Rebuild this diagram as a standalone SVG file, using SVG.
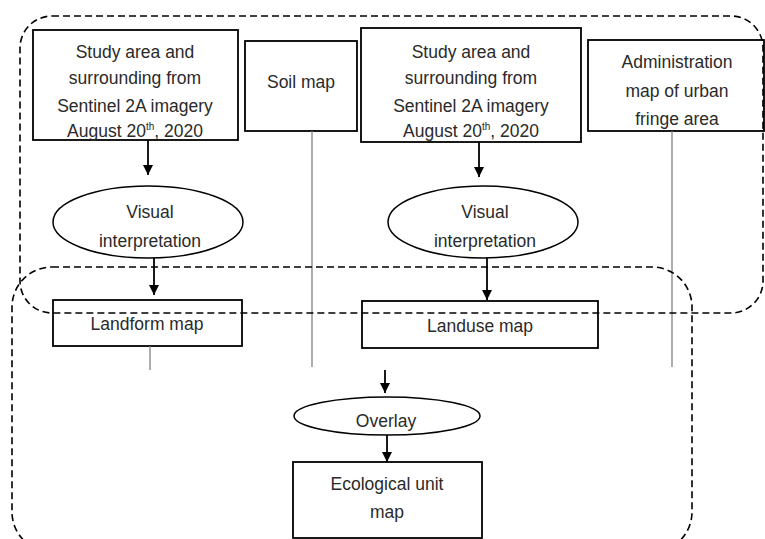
<svg xmlns="http://www.w3.org/2000/svg" width="765" height="539" viewBox="0 0 765 539">
<style>
.box{fill:#fff;stroke:#000;stroke-width:1.8}
.ell{fill:#fff;stroke:#000;stroke-width:1.5}
.t{font-family:"Liberation Sans",Arial,sans-serif;font-size:17.5px;fill:#2a2a2a;text-anchor:middle}
.ln{stroke:#777;stroke-width:1.2;fill:none}
.ar{stroke:#000;stroke-width:1.8;fill:none;marker-end:url(#ah)}
.dash{fill:none;stroke:#000;stroke-width:1.6;stroke-dasharray:7 4}
</style>
<defs>
<marker id="ah" viewBox="0 0 10 10" refX="10" refY="5" markerWidth="10" markerHeight="10" markerUnits="userSpaceOnUse" orient="auto">
<path d="M0,0 L10,5 L0,10 z" fill="#000"/>
</marker>
</defs>
<rect width="765" height="539" fill="#fff"/>
<g id="n1"><rect class="box" x="33" y="30" width="205" height="110"/>
<text class="t" x="135" y="58">Study area and</text>
<text class="t" x="135" y="84">surrounding from</text>
<text class="t" x="135" y="112">Sentinel 2A  imagery</text>
<text class="t" x="135" y="137">August 20<tspan font-size="10" dy="-7">th</tspan><tspan dy="7">, 2020</tspan></text></g>
<g id="n2"><rect class="box" x="245" y="41" width="112" height="90"/>
<text class="t" x="301" y="88">Soil map</text></g>
<g id="n3"><rect class="box" x="361" y="28" width="220" height="114"/>
<text class="t" x="471" y="58">Study area and</text>
<text class="t" x="471" y="84">surrounding from</text>
<text class="t" x="471" y="112">Sentinel 2A  imagery</text>
<text class="t" x="471" y="137">August 20<tspan font-size="10" dy="-7">th</tspan><tspan dy="7">, 2020</tspan></text></g>
<g id="n4"><rect class="box" x="588" y="40" width="176" height="91"/>
<text class="t" x="677" y="68">Administration</text>
<text class="t" x="677" y="97">map of urban</text>
<text class="t" x="677" y="125">fringe area</text></g>
<g id="n5"><ellipse class="ell" cx="148" cy="222" rx="95" ry="36"/>
<text class="t" x="150" y="218">Visual</text>
<text class="t" x="150" y="247">interpretation</text></g>
<g id="n6"><ellipse class="ell" cx="483" cy="222" rx="95" ry="36"/>
<text class="t" x="485" y="218">Visual</text>
<text class="t" x="485" y="247">interpretation</text></g>
<g id="n7"><rect class="box" x="53" y="300" width="189" height="46"/>
<text class="t" x="147" y="330">Landform map</text></g>
<g id="n8"><rect class="box" x="362" y="301" width="236" height="47"/>
<text class="t" x="480" y="332">Landuse map</text></g>
<g id="n9"><ellipse class="ell" cx="387" cy="416" rx="93" ry="19"/>
<text class="t" x="386" y="427">Overlay</text></g>
<g id="n10"><rect class="box" x="293" y="462" width="189" height="76"/>
<text class="t" x="387" y="490">Ecological unit</text>
<text class="t" x="387" y="518">map</text></g>
<g id="connectors">
<line class="ar" x1="148" y1="140" x2="148" y2="175"/>
<line class="ar" x1="479" y1="142" x2="479" y2="177"/>
<line class="ar" x1="154" y1="258" x2="154" y2="295"/>
<line class="ar" x1="487" y1="258" x2="487" y2="300"/>
<line class="ar" x1="385" y1="370" x2="385" y2="393"/>
<line class="ar" x1="387" y1="435" x2="387" y2="462"/>
<line class="ln" x1="150" y1="346" x2="150" y2="370"/>
<line class="ln" x1="312" y1="131" x2="312" y2="367"/>
<line class="ln" x1="672" y1="131" x2="672" y2="367" stroke="#333"/>
</g>
<g id="groups">
<rect class="dash" x="20" y="16" width="743" height="297" rx="32" ry="32"/>
<rect class="dash" x="12" y="267" width="680" height="285" rx="40" ry="40" stroke-width="1.3"/>
</g>
</svg>
